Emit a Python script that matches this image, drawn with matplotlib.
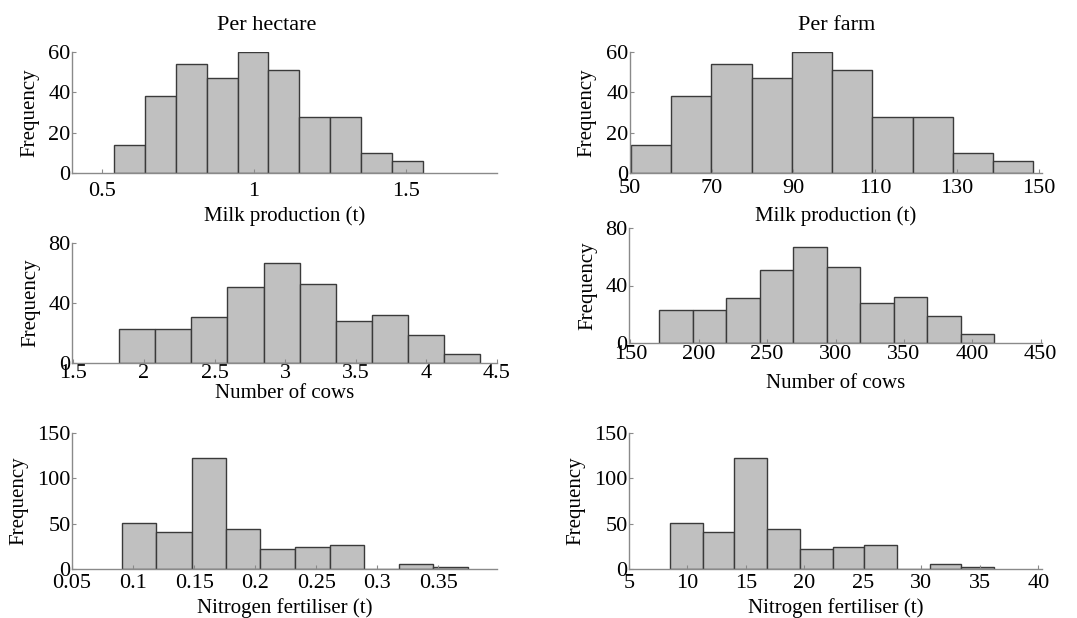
import numpy as np
import matplotlib.pyplot as plt

plt.rcParams['font.family'] = ['Liberation Serif', 'DejaVu Serif']
plt.rcParams['font.size'] = 15

# bin edges and counts
milk_ha_edges = [0.539, 0.641, 0.742, 0.844, 0.946, 1.047, 1.149, 1.251, 1.353, 1.454, 1.556]
milk_farm_edges = [50.2, 60.0, 69.9, 79.8, 89.6, 99.5, 109.3, 119.2, 129.0, 138.9, 148.7]
milk_counts = [14, 38, 54, 47, 60, 51, 28, 28, 10, 6]

cows_ha_edges = [1.825, 2.080, 2.336, 2.591, 2.847, 3.102, 3.357, 3.613, 3.868, 4.124, 4.379]
cows_farm_edges = [171.3, 195.8, 220.2, 244.7, 269.2, 293.7, 318.1, 342.6, 367.1, 391.5, 416.0]
cows_counts = [23, 23, 31, 51, 67, 53, 28, 32, 19, 6]

nit_ha_edges = [0.091, 0.119, 0.148, 0.176, 0.204, 0.233, 0.261, 0.289, 0.318, 0.346, 0.374]
nit_farm_edges = [8.5, 11.3, 14.0, 16.8, 19.6, 22.4, 25.1, 27.9, 30.7, 33.4, 36.2]
nit_counts = [51, 41, 122, 44, 22, 24, 26, 0, 5, 2]

milk_ha_ticks = [0.5, 1, 1.5]
milk_farm_ticks = [50, 70, 90, 110, 130, 150]
cows_ha_ticks = [1.5, 2, 2.5, 3, 3.5, 4, 4.5]
cows_farm_ticks = [150, 200, 250, 300, 350, 400, 450]
nit_ha_ticks = [0.05, 0.1, 0.15, 0.2, 0.25, 0.3, 0.35]
nit_farm_ticks = [5, 10, 15, 20, 25, 30, 35, 40]

W, H = 1077, 618


def hist_panel(fig, box, edges, counts, xticks, xlim, yticks, xlabel, xpad, xlab_y, ylab_x):
    x0, x1, ytop, ybot = box
    ax = fig.add_axes([x0 / W, 1 - ybot / H, (x1 - x0) / W, (ybot - ytop) / H])
    edges = np.array(edges)
    ax.bar(edges[:-1], counts, width=np.diff(edges), align='edge',
           color='#c0c0c0', edgecolor='#3a3a3a', linewidth=1.0)
    ax.set_xlim(*xlim)
    ax.set_ylim(0, yticks[-1])
    ax.set_xticks(xticks)
    ax.set_xticklabels([('%g' % t) for t in xticks])
    ax.set_yticks(yticks)
    ax.set_xlabel(xlabel, fontsize=15)
    ax.set_ylabel('Frequency', fontsize=15)
    # label positions (pixels)
    ax.xaxis.set_label_coords(0.5, (ybot - xlab_y) / (ybot - ytop))
    ax.xaxis.label.set_va('center')
    ax.yaxis.set_label_coords((ylab_x - x0) / (x1 - x0), 0.5)
    ax.yaxis.label.set_va('center')
    for s in ['top', 'right']:
        ax.spines[s].set_visible(False)
    for s in ['left', 'bottom']:
        ax.spines[s].set_color('#8a8a8a')
        ax.spines[s].set_linewidth(1.0)
    ax.tick_params(direction='in', length=3, width=0.8, color='#8a8a8a', labelsize=16)
    ax.tick_params(axis='x', pad=xpad)
    ax.tick_params(axis='y', pad=1)
    return ax


fig = plt.figure(figsize=(W / 100, H / 100), dpi=100)

hist_panel(fig, (72, 497, 52, 173), milk_ha_edges, milk_counts, milk_ha_ticks, (0.40, 1.80),
           [0, 20, 40, 60], 'Milk production (t)', 6.5, 216, 30)
hist_panel(fig, (630, 1042, 52, 173), milk_farm_edges, milk_counts, milk_farm_ticks, (50, 150.8),
           [0, 20, 40, 60], 'Milk production (t)', 4.5, 216, 587)

hist_panel(fig, (72, 497, 243, 363), cows_ha_edges, cows_counts, cows_ha_ticks, (1.49, 4.5),
           [0, 40, 80], 'Number of cows', 0.8, 393, 31)
hist_panel(fig, (629, 1042, 228, 343), cows_farm_edges, cows_counts, cows_farm_ticks, (149, 451),
           [0, 40, 80], 'Number of cows', 1.5, 384, 588)

hist_panel(fig, (72, 497, 433, 569), nit_ha_edges, nit_counts, nit_ha_ticks, (0.05, 0.398),
           [0, 50, 100, 150], 'Nitrogen fertiliser (t)', 3.5, 608, 19)
hist_panel(fig, (629, 1042, 433, 569), nit_farm_edges, nit_counts, nit_farm_ticks, (5, 40.3),
           [0, 50, 100, 150], 'Nitrogen fertiliser (t)', 3.5, 608, 576)

fig.text(267 / W, 1 - 25 / H, 'Per hectare', ha='center', va='center', fontsize=16)
fig.text(837 / W, 1 - 25 / H, 'Per farm', ha='center', va='center', fontsize=16)

fig.savefig('out.png', dpi=100)
